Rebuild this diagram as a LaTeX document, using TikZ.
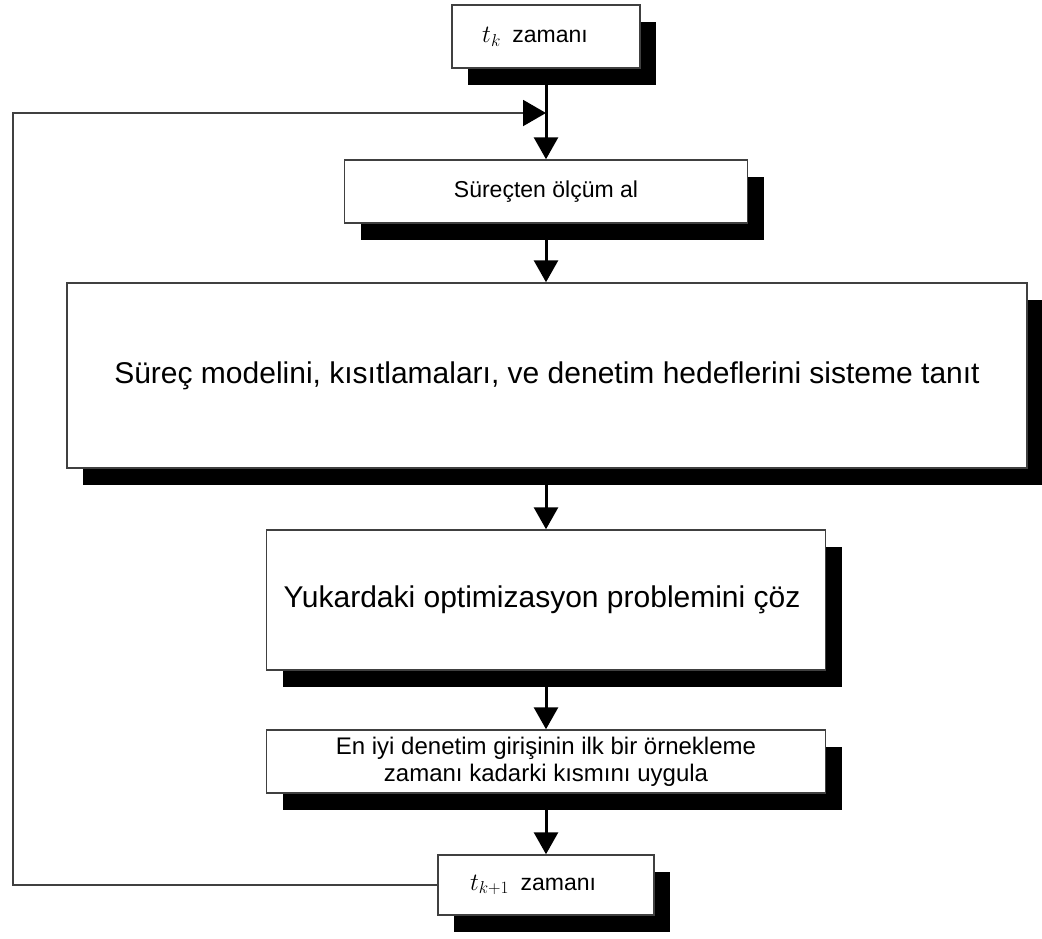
\documentclass[tikz,border=0pt]{standalone}
\usepackage{fontspec}
\setmainfont{Liberation Sans}
\usetikzlibrary{shadows,arrows.meta}

\begin{document}
\begin{tikzpicture}[x=1pt,y=-1pt,
  box/.style={draw=black!75,line width=1.5pt,fill=white,inner sep=0pt,align=center,
    drop shadow={shadow xshift=16pt,shadow yshift=-17pt,fill=black,opacity=1}},
  flow/.style={line width=3pt,-{Triangle[width=24pt,length=22pt]}},
  back/.style={draw=black!75,line width=2pt,-{Triangle[width=26pt,length=23pt,black]}}]
\useasboundingbox (0,0) rectangle (1042,938);
\node[box,minimum width=188pt,minimum height=63pt,font=\fontsize{23}{27}\selectfont] (tk) at (546,36.5) {$t_k$\enspace zamanı\hspace{22pt}};
\node[box,minimum width=403pt,minimum height=63pt,font=\fontsize{23}{27}\selectfont] (olcum) at (546,191.5) {Süreçten ölçüm al};
\node[box,minimum width=960pt,minimum height=185pt,font=\fontsize{30}{36}\selectfont] (model) at (547,375.5) {Süreç modelini, kısıtlamaları, ve denetim hedeflerini sisteme tanıt};
\node[box,minimum width=559pt,minimum height=140pt,font=\fontsize{30}{36}\selectfont] (coz) at (546,600) {Yukardaki optimizasyon problemini çöz\hspace{8pt}};
\node[box,minimum width=559pt,minimum height=63pt,font=\fontsize{24}{27}\selectfont] (uygula) at (546,761.5) {En iyi denetim girişinin ilk bir örnekleme\\zamanı kadarki kısmını uygula};
\node[box,minimum width=216pt,minimum height=60pt,font=\fontsize{23}{27}\selectfont] (tkbir) at (546,885) {$t_{k+1}$\enspace zamanı\hspace{26pt}};
\coordinate (join) at (546,113);
\coordinate (corner) at (13,885);
\draw[flow] (tk.south) -- (olcum.north);
\draw[flow] (olcum.south) -- (model.north -| olcum.south);
\draw[flow] (model.south -| coz.north) -- (coz.north);
\draw[flow] (coz.south) -- (uygula.north);
\draw[flow] (uygula.south) -- (tkbir.north);
\draw[back] (tkbir.west) -- (corner) |- (join);
\end{tikzpicture}
\end{document}
